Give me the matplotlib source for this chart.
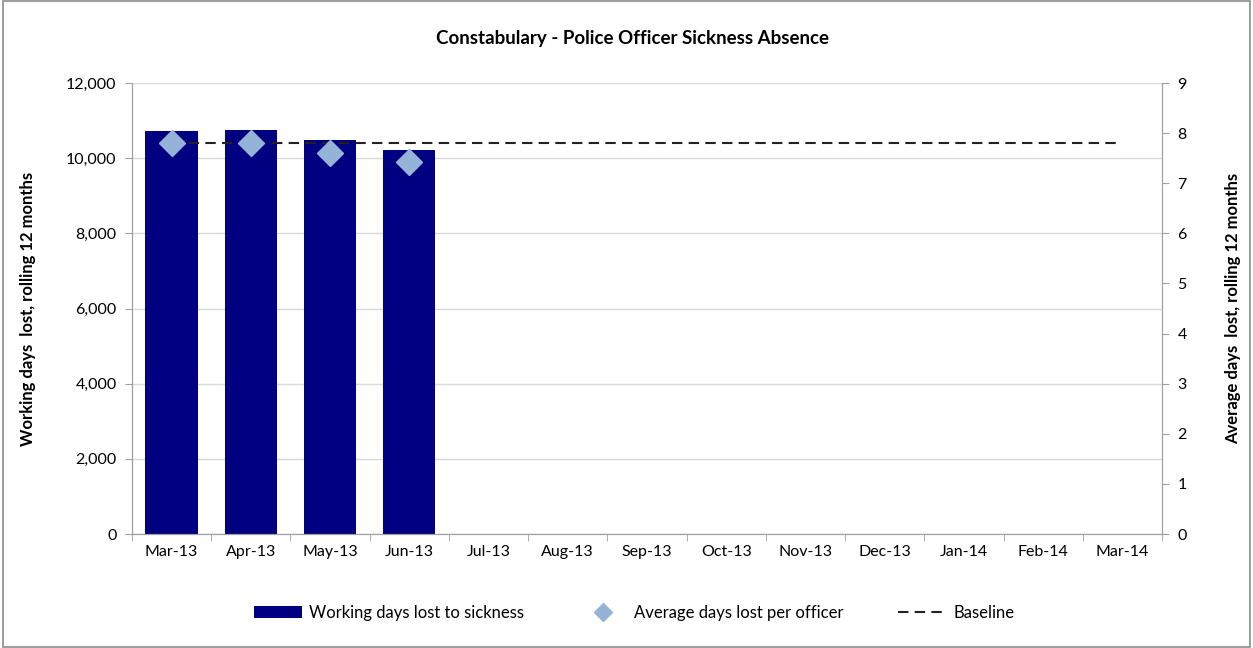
import numpy as np
import matplotlib
matplotlib.use("Agg")
import matplotlib.pyplot as plt
from matplotlib.ticker import FuncFormatter, FixedLocator
from matplotlib.lines import Line2D
from matplotlib.patches import Patch

plt.rcParams['font.family'] = ['Lato', 'DejaVu Sans']

# Datos
months = ['Mar-13', 'Apr-13', 'May-13', 'Jun-13', 'Jul-13', 'Aug-13', 'Sep-13',
          'Oct-13', 'Nov-13', 'Dec-13', 'Jan-14', 'Feb-14', 'Mar-14']
days_lost = [10720, 10760, 10480, 10220]
avg_days = [7.80, 7.80, 7.60, 7.42]
baseline = [7.80] * len(months)

fig = plt.figure(figsize=(12.53, 6.48), dpi=100)
ax = fig.add_axes([0.1053, 0.1759, 0.8221, 0.696])
ax2 = ax.twinx()

x = np.arange(len(months))
ax.bar(x[:len(days_lost)], days_lost, width=0.66, color='#000080', zorder=2)

ax2.plot(x[:len(avg_days)], avg_days, linestyle='none', marker='D', markersize=13,
         color='#95B3D7', zorder=4)
ax2.plot(x, baseline, color='#222222', linestyle=(0, (5, 3)), linewidth=1.5, zorder=3)

ax.set_xlim(-0.5, len(months) - 0.5)
ax.set_ylim(0, 12000)
ax2.set_ylim(0, 9)
ax.set_yticks(np.arange(0, 12001, 2000))
ax2.set_yticks(np.arange(0, 10, 1))
ax.yaxis.set_major_formatter(FuncFormatter(lambda v, p: f'{int(v):,}'))
ax.grid(axis='y', color='#d9d9d9', linewidth=1, zorder=0)
ax.set_axisbelow(True)

ax.set_xticks(x)
ax.set_xticklabels(months, fontsize=11.5)
ax.tick_params(axis='x', length=0, pad=8)
ax.xaxis.set_minor_locator(FixedLocator(np.arange(-0.5, len(months), 1)))
ax.tick_params(axis='x', which='minor', length=5, color='#a0a0a0')
ax.tick_params(axis='y', labelsize=11.5, length=5, color='#a0a0a0', pad=6)
ax2.tick_params(axis='y', labelsize=11.5, length=5, color='#a0a0a0', pad=6)

for a in (ax, ax2):
    a.spines['top'].set_visible(False)
    for s in ('left', 'right', 'bottom'):
        a.spines[s].set_color('#a0a0a0')

ax.set_ylabel('Working days  lost, rolling 12 months', fontsize=12, fontweight='bold', labelpad=22)
ax2.set_ylabel('Average days  lost, rolling 12 months', fontsize=12, fontweight='bold', labelpad=28)

fig.text(0.505, 0.941, 'Constabulary - Police Officer Sickness Absence', ha='center',
         va='center', fontsize=13.5, fontweight='bold')

handles = [Patch(facecolor='#000080'),
           Line2D([], [], linestyle='none', marker='D', markersize=9, color='#95B3D7'),
           Line2D([], [], color='#222222', linestyle=(0, (5, 3)), linewidth=1.5)]
labels = ['Working days lost to sickness', 'Average days lost per officer', 'Baseline']
fig.legend(handles, labels, loc='center', bbox_to_anchor=(0.506, 0.054), ncol=3,
           frameon=False, fontsize=12, columnspacing=3.3, handlelength=2.9,
           handletextpad=0.4)

# Borde de la figura
fig.patches.append(plt.Rectangle((0.002, 0.002), 0.996, 0.996, transform=fig.transFigure,
                                 fill=False, edgecolor='#8c8c8c', linewidth=1.2))

fig.savefig('out.png', dpi=100)
